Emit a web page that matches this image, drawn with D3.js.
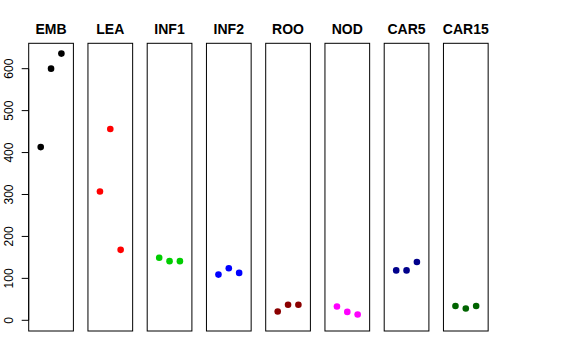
<!DOCTYPE html>
<html>
<head>
<meta charset="utf-8">
<script src="https://cdn.jsdelivr.net/npm/d3@7"></script>
<style>
  body { margin: 0; background: #fff; }
  text { font-family: "Liberation Sans", Arial, sans-serif; }
</style>
</head>
<body>
<svg width="576" height="360"></svg>
<script>
// groups and their three replicate values
var groups = ["EMB", "LEA", "INF1", "INF2", "ROO", "NOD", "CAR5", "CAR15"];
var colors = ["#000000", "#ff0000", "#00cd00", "#0000ff", "#8b0000", "#ff00ff", "#00008b", "#006400"];
var values = [
  [413, 600, 636],
  [307, 456, 168],
  [149, 141, 141],
  [109, 124, 113],
  [21, 37, 37],
  [33, 20, 14],
  [119, 119, 139],
  [34, 28, 34]
];
var yTicks = [0, 100, 200, 300, 400, 500, 600];

var svg = d3.select("svg");

// panel geometry (note: "top" is taken by window.top)
var panelLeft = 28.7, panelW = 44.7, step = 59.25;
var panelTop = 43.3, panelBottom = 331;

// shared y scale (R style 4% padding)
var y = d3.scaleLinear().domain([-25.5, 660.5]).range([panelBottom, panelTop]);
// x within each panel: positions 1..3 on xlim [0,4] padded
var x = d3.scaleLinear().domain([-0.16, 4.16]).range([0, panelW]);

groups.forEach(function(g, i) {
  var p = svg.append("g").attr("transform", "translate(" + (panelLeft + i * step) + ",0)");

  p.append("rect")
    .attr("x", 0).attr("y", panelTop)
    .attr("width", panelW).attr("height", panelBottom - panelTop)
    .attr("fill", "none").attr("stroke", "#000").attr("stroke-width", 1);

  p.append("text")
    .attr("x", panelW / 2).attr("y", 34)
    .attr("text-anchor", "middle")
    .style("font-size", "14px").style("font-weight", "bold")
    .text(g);

  p.selectAll("circle")
    .data(values[i])
    .enter()
    .append("circle")
      .attr("cx", function(d, j) { return x(j + 1) })
      .attr("cy", function(d) { return y(d) })
      .attr("r", 3.3)
      .attr("fill", colors[i]);
});

// y axis on first panel
var ax = svg.append("g").attr("transform", "translate(" + panelLeft + ",0)");
ax.append("line")
  .attr("x1", 0).attr("x2", 0)
  .attr("y1", y(0)).attr("y2", y(600))
  .attr("stroke", "#000");
ax.selectAll(".tick")
  .data(yTicks)
  .enter()
  .append("line")
    .attr("x1", -7).attr("x2", 0)
    .attr("y1", function(d) { return y(d) })
    .attr("y2", function(d) { return y(d) })
    .attr("stroke", "#000");
ax.selectAll(".lab")
  .data(yTicks)
  .enter()
  .append("text")
    .attr("transform", function(d) { return "translate(" + (12.5 - panelLeft) + "," + y(d) + ") rotate(-90)" })
    .attr("text-anchor", "middle")
    .style("font-size", "12px")
    .text(function(d) { return d });
</script>
</body>
</html>
